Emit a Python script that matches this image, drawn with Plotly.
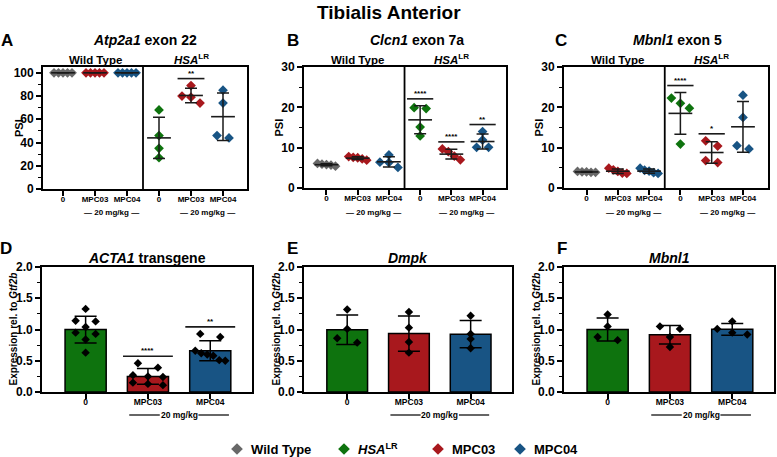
import numpy as np
import plotly.graph_objects as go

W, H = 777, 457
FONT = "Arial, 'Liberation Sans', Helvetica, sans-serif"

# ------------------------------------------------------------------ data
scatter_tick_labels = ["0", "MPC03", "MPC04", "0", "MPC03", "MPC04"]
bar_tick_labels = ["0", "MPC03", "MPC04"]
legend_names = ["Wild Type", "<i>HSA</i><sup>LR</sup>", "MPC03", "MPC04"]

# A  Atp2a1 exon 22 (PSI)
atp2a1_wt_0 = [100, 100, 100, 100, 100]
atp2a1_wt_mpc03 = [100, 100, 100, 100, 100]
atp2a1_wt_mpc04 = [100, 100, 100, 100, 100]
atp2a1_hsa_0 = [68, 46, 35, 27]
atp2a1_hsa_mpc03 = [89, 80, 79, 74]
atp2a1_hsa_mpc04 = [85, 74, 46, 44]
atp2a1_sig = ["", "", "", "", "**", ""]

# B  Clcn1 exon 7a (PSI)
clcn1_wt_0 = [5.4, 5.7, 5.9, 6.1, 5.8]
clcn1_wt_mpc03 = [6.9, 7.2, 7.5, 7.8, 7.6]
clcn1_wt_mpc04 = [8.2, 6.4, 6.3, 5.1]
clcn1_hsa_0 = [19.7, 19.9, 15.1, 12.9]
clcn1_hsa_mpc03 = [9.7, 9.0, 7.0, 7.9]
clcn1_hsa_mpc04 = [14.0, 11.9, 10.1, 10.1]
clcn1_sig = ["", "", "", "****", "****", "**"]

# C  Mbnl1 exon 5 (PSI)
mbnl1e5_wt_0 = [3.9, 4.0, 4.1, 4.0, 3.9]
mbnl1e5_wt_mpc03 = [4.9, 4.5, 4.1, 3.7, 3.6]
mbnl1e5_wt_mpc04 = [4.9, 4.4, 4.2, 3.8, 3.6]
mbnl1e5_hsa_0 = [21.0, 22.3, 19.8, 10.9]
mbnl1e5_hsa_mpc03 = [10.4, 11.7, 6.3, 6.8]
mbnl1e5_hsa_mpc04 = [23.0, 17.5, 9.7, 10.5]
mbnl1e5_sig = ["", "", "", "****", "*", ""]

# D  ACTA1 transgene expression
acta1_0 = [1.33, 1.14, 1.13, 1.04, 0.95, 0.93, 0.84, 0.63]
acta1_mpc03 = [0.46, 0.39, 0.27, 0.25, 0.24, 0.15, 0.13, 0.11]
acta1_mpc04 = [0.93, 0.88, 0.66, 0.62, 0.60, 0.58, 0.51, 0.50]
acta1_sig = ["", "****", "**"]

# E  Dmpk expression
dmpk_0 = [1.32, 1.01, 0.86, 0.79]
dmpk_mpc03 = [1.28, 1.03, 0.80, 0.63]
dmpk_mpc04 = [1.22, 0.93, 0.85, 0.70]
dmpk_sig = ["", "", ""]

# F  Mbnl1 expression
mbnl1_0 = [1.24, 1.05, 0.88, 0.83]
mbnl1_mpc03 = [1.05, 1.01, 0.88, 0.72]
mbnl1_mpc04 = [1.13, 1.01, 0.95, 0.92]
mbnl1_sig = ["", "", ""]

# ------------------------------------------------------------------ style
GRAY, GREEN, RED, BLUE = "#686868", "#0e730e", "#a8181d", "#185484"
LINE = "#1a1a1a"
scatter_colors = [GRAY, RED, BLUE, GREEN, RED, BLUE]
bar_colors = [GREEN, RED, BLUE]
legend_colors = [GRAY, GREEN, RED, BLUE]
legend_symbol_px = [237, 344, 438, 520]   # layout positions of legend keys
LEGEND_Y = 449


def px_x(x):
    return x / W


def px_y(y):
    return 1 - y / H


def sfx(i):
    return "" if i == 1 else str(i)


def swarm(vals, ppu_y, ppu_x, thr, spread, step_max):
    v = np.asarray(vals, float)
    order = list(np.argsort(-v, kind="stable"))
    clusters, cur = [], [order[0]]
    for a, b in zip(order[:-1], order[1:]):
        if (v[a] - v[b]) * ppu_y < thr:
            cur.append(b)
        else:
            clusters.append(cur)
            cur = [b]
    clusters.append(cur)
    off = np.zeros(len(v))
    for c in clusters:
        k = len(c)
        if k < 2:
            continue
        step = min(step_max, spread / (k - 1))
        for i, idx in enumerate(c):
            off[idx] = (i - (k - 1) / 2) * step / ppu_x
    return off


scatter_panels = [
    dict(letter="A", title="<i>Atp2a1</i> exon 22",
         groups=[atp2a1_wt_0, atp2a1_wt_mpc03, atp2a1_wt_mpc04,
                 atp2a1_hsa_0, atp2a1_hsa_mpc03, atp2a1_hsa_mpc04],
         sig=atp2a1_sig, xpx=(43, 247), ypx=(67, 189), xr=(-0.625, 5.75),
         yr=(0, 105), dtick=20, minor=10, title_x=145, letter_x=7, ylab_x=19),
    dict(letter="B", title="<i>Clcn1</i> exon 7a",
         groups=[clcn1_wt_0, clcn1_wt_mpc03, clcn1_wt_mpc04,
                 clcn1_hsa_0, clcn1_hsa_mpc03, clcn1_hsa_mpc04],
         sig=clcn1_sig, xpx=(304, 506), ypx=(67, 188), xr=(-0.72, 5.75),
         yr=(0, 30), dtick=10, minor=5, title_x=417, letter_x=293, ylab_x=278),
    dict(letter="C", title="<i>Mbnl1</i> exon 5",
         groups=[mbnl1e5_wt_0, mbnl1e5_wt_mpc03, mbnl1e5_wt_mpc04,
                 mbnl1e5_hsa_0, mbnl1e5_hsa_mpc03, mbnl1e5_hsa_mpc04],
         sig=mbnl1e5_sig, xpx=(564, 768), ypx=(67, 188), xr=(-0.72, 5.8),
         yr=(0, 30), dtick=10, minor=5, title_x=677, letter_x=561, ylab_x=538),
]

bar_panels = [
    dict(letter="D", title="<i>ACTA1</i> transgene",
         groups=[acta1_0, acta1_mpc03, acta1_mpc04], sig=acta1_sig,
         xpx=(42, 252), letter_x=6, ylab_x=13, title_x=147),
    dict(letter="E", title="<i>Dmpk</i>",
         groups=[dmpk_0, dmpk_mpc03, dmpk_mpc04], sig=dmpk_sig,
         xpx=(304, 512), letter_x=292, ylab_x=276, title_x=408),
    dict(letter="F", title="<i>Mbnl1</i>",
         groups=[mbnl1_0, mbnl1_mpc03, mbnl1_mpc04], sig=mbnl1_sig,
         xpx=(564, 774), letter_x=562, ylab_x=536, title_x=669),
]

fig = go.Figure()
layout = dict(width=W, height=H, margin=dict(l=0, r=0, t=0, b=0),
              paper_bgcolor="white", plot_bgcolor="rgba(0,0,0,0)",
              font=dict(family=FONT, color="black"),
              showlegend=False)
annotations, shapes = [], []


def axis_common():
    return dict(showline=True, mirror=True, linewidth=1.8, linecolor="black",
                showgrid=False, zeroline=False, ticks="outside", ticklen=5,
                tickwidth=1.5, tickcolor="black", automargin=False)


def add_text(x, y, text, size, xref="paper", yref="paper", angle=0,
             yanchor="middle", yshift=0, xanchor="center"):
    annotations.append(dict(x=x, y=y, xref=xref, yref=yref, text=text,
                            showarrow=False, textangle=angle,
                            xanchor=xanchor, yanchor=yanchor, yshift=yshift,
                            font=dict(size=size, family=FONT, color="black",
                                      weight="bold")))


# ---------------- scatter panels
for i, p in enumerate(scatter_panels, start=1):
    xa, ya = "x" + sfx(i), "y" + sfx(i)
    x0, x1 = p["xpx"]
    yt, yb = p["ypx"]
    ppu_y = (yb - yt) / (p["yr"][1] - p["yr"][0])
    ppu_x = (x1 - x0) / (p["xr"][1] - p["xr"][0])
    layout["xaxis" + sfx(i)] = dict(axis_common(), domain=[px_x(x0), px_x(x1)],
                                    range=list(p["xr"]), anchor=ya,
                                    tickvals=list(range(6)),
                                    ticktext=scatter_tick_labels, tickangle=0,
                                    ticklabelstandoff=-4,
                                    tickfont=dict(size=8, weight="bold"))
    layout["yaxis" + sfx(i)] = dict(axis_common(), domain=[px_y(yb), px_y(yt)],
                                    range=list(p["yr"]), anchor=xa,
                                    dtick=p["dtick"],
                                    minor=dict(dtick=p["minor"], ticks="outside",
                                               ticklen=3, tickwidth=1.2,
                                               tickcolor="black", showgrid=False),
                                    tickfont=dict(size=12, weight="bold"))
    for g, vals in enumerate(p["groups"]):
        off = swarm(vals, ppu_y, ppu_x, 6, 18, 12)
        fig.add_trace(go.Scatter(
            x=g + off, y=vals, mode="markers", xaxis=xa, yaxis=ya,
            marker=dict(symbol="diamond", size=7.5, color=scatter_colors[g]),
            hoverinfo="skip"))
    for g, vals in enumerate(p["groups"]):
        m, sd = float(np.mean(vals)), float(np.std(vals, ddof=1))
        fig.add_trace(go.Scatter(
            x=[g], y=[m], mode="markers", xaxis=xa, yaxis=ya,
            marker=dict(symbol="line-ew", size=17,
                        line=dict(color=LINE, width=1.6)),
            error_y=dict(type="data", array=[sd], width=6, thickness=1.5,
                         color=LINE),
            hoverinfo="skip"))
        if p["sig"][g]:
            ys = max(max(vals), m + sd) + 7 / ppu_y
            shapes.append(dict(type="line", xref=xa, yref=ya, x0=g - 0.42,
                               x1=g + 0.42, y0=ys, y1=ys,
                               line=dict(color=LINE, width=1.6)))
            add_text(g, ys, p["sig"][g], 8, xref=xa, yref=ya,
                     yanchor="bottom", yshift=-1)
    # divider between genotypes
    shapes.append(dict(type="line", xref=xa, yref=ya + " domain", x0=2.5,
                       x1=2.5, y0=0, y1=1, line=dict(color="black", width=1.8)))
    add_text(1, px_y(60), "Wild Type", 11.5, xref=xa)
    add_text(4, px_y(59), "<i>HSA</i><sup>LR</sup>", 11.5, xref=xa)
    add_text(1.5, px_y(212), "— 20 mg/kg —", 8, xref=xa)
    add_text(4.5, px_y(212), "— 20 mg/kg —", 8, xref=xa)
    add_text(px_x(p["title_x"]), px_y(40), p["title"], 14)
    add_text(px_x(p["letter_x"]), px_y(40), p["letter"], 17)
    add_text(px_x(p["ylab_x"]), px_y((yt + yb) / 2), "PSI", 11, angle=-90)

# ---------------- bar panels
BYT, BYB = 267, 392
for j, p in enumerate(bar_panels, start=4):
    xa, ya = "x" + sfx(j), "y" + sfx(j)
    x0, x1 = p["xpx"]
    xr = (-0.7, 2.67)
    ppu_y = (BYB - BYT) / 2.0
    ppu_x = (x1 - x0) / (xr[1] - xr[0])
    layout["xaxis" + sfx(j)] = dict(axis_common(), domain=[px_x(x0), px_x(x1)],
                                    range=list(xr), anchor=ya,
                                    tickvals=list(range(3)),
                                    ticktext=bar_tick_labels, tickangle=0,
                                    ticklabelstandoff=-4,
                                    tickfont=dict(size=8.5, weight="bold"))
    layout["yaxis" + sfx(j)] = dict(axis_common(), domain=[px_y(BYB), px_y(BYT)],
                                    range=[0, 2], anchor=xa, dtick=0.5,
                                    tickformat=".1f",
                                    minor=dict(dtick=0.25, ticks="outside",
                                               ticklen=3, tickwidth=1.2,
                                               tickcolor="black", showgrid=False),
                                    tickfont=dict(size=12, weight="bold"))
    means = [float(np.mean(v)) for v in p["groups"]]
    sds = [float(np.std(v, ddof=1)) for v in p["groups"]]
    fig.add_trace(go.Bar(
        x=[0, 1, 2], y=means, width=0.66, xaxis=xa, yaxis=ya,
        marker=dict(color=bar_colors, line=dict(color="black", width=1.5)),
        error_y=dict(type="data", array=sds, width=11, thickness=1.5,
                     color="black"),
        hoverinfo="skip"))
    for g, vals in enumerate(p["groups"]):
        off = swarm(vals, ppu_y, ppu_x, 5, 30, 20)
        fig.add_trace(go.Scatter(
            x=g + off, y=vals, mode="markers", xaxis=xa, yaxis=ya,
            marker=dict(symbol="diamond", size=6.5, color="black"),
            hoverinfo="skip"))
        if p["sig"][g]:
            ys = max(max(vals), means[g] + sds[g]) + 7 / ppu_y
            shapes.append(dict(type="line", xref=xa, yref=ya, x0=g - 0.4,
                               x1=g + 0.4, y0=ys, y1=ys,
                               line=dict(color=LINE, width=1.6)))
            add_text(g, ys, p["sig"][g], 8, xref=xa, yref=ya,
                     yanchor="bottom", yshift=-1)
    # dose bracket
    yb_ = px_y(415)
    for a, b in [(1.5 - 0.8, 1.5 - 0.31), (1.5 + 0.31, 1.5 + 0.8)]:
        shapes.append(dict(type="line", xref=xa, yref="paper", x0=a, x1=b,
                           y0=yb_, y1=yb_, line=dict(color="black", width=1.2)))
    add_text(1.5, yb_, "20 mg/kg", 8.5, xref=xa)
    add_text(px_x(p["title_x"]), px_y(258), p["title"], 14)
    add_text(px_x(p["letter_x"]), px_y(248), p["letter"], 17)
    add_text(px_x(p["ylab_x"]), px_y((BYT + BYB) / 2),
             "Expression rel. to <i>Gtf2b</i>", 10, angle=-90)

# ---------------- main title
add_text(0.5, px_y(12), "Tibialis Anterior", 19)

# ---------------- legend (keys on a hidden full-page overlay axis)
layout["xaxis7"] = dict(domain=[0, 1], range=[0, W], visible=False,
                        anchor="y7", fixedrange=True)
layout["yaxis7"] = dict(domain=[0, 1], range=[H, 0], visible=False,
                        anchor="x7", fixedrange=True)
fig.add_trace(go.Scatter(
    x=legend_symbol_px, y=[LEGEND_Y] * len(legend_symbol_px), mode="markers",
    xaxis="x7", yaxis="y7", hoverinfo="skip",
    marker=dict(symbol="diamond", size=9, color=legend_colors)))
for name, sx in zip(legend_names, legend_symbol_px):
    add_text(px_x(sx + 12), px_y(LEGEND_Y), name, 13, xanchor="left")

layout["annotations"] = annotations
layout["shapes"] = shapes
fig.update_layout(**layout)
fig.write_html("out.html")
